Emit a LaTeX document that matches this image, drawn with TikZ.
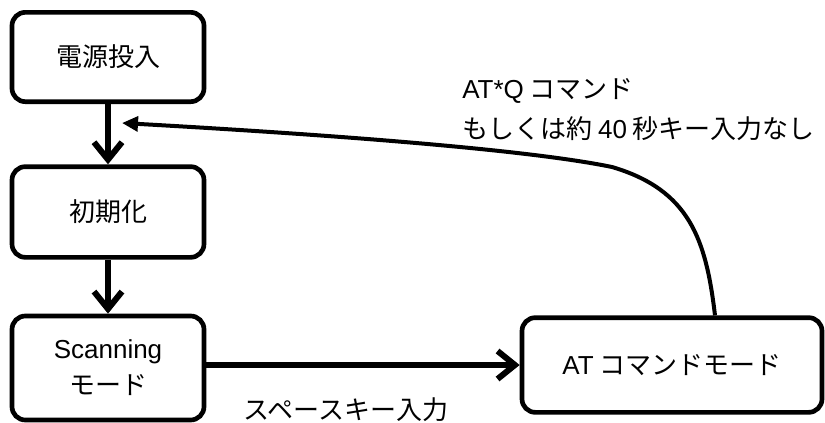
\documentclass[tikz,border=0pt]{standalone}
\usepackage{fontspec}
\setmainfont{Liberation Sans}
\newfontfamily\jp{Noto Sans CJK JP}
\usetikzlibrary{arrows.meta,calc}
\begin{document}
\begin{tikzpicture}[x=0.75pt,y=-0.75pt,
  stepbox/.style={draw,line width=3.5pt,rounded corners=10pt,inner sep=0pt,font=\fontsize{19.5}{27}\selectfont\jp,align=center},
  lbl/.style={font=\fontsize{19.5}{30}\selectfont\jp,inner sep=0pt},
  flow/.style={line width=4.5pt,-{Straight Barb[length=13pt,width=21pt,line width=4.5pt]}},
  ret/.style={line width=3pt,-{Triangle[length=12pt,width=11pt]}}]
\useasboundingbox (0,0) rectangle (825,422);
\node[stepbox,minimum width=144pt,minimum height=67pt] (pw) at (108,57) {電源投入};
\node[stepbox,minimum width=144pt,minimum height=68pt] (init) at (108,212) {初期化};
\node[stepbox,minimum width=144pt,minimum height=78pt] (scan) at (108,368) {{\rmfamily Scanning}\\モード};
\node[stepbox,minimum width=225pt,minimum height=71pt] (at) at (672,365) {{\rmfamily AT} コマンドモード};
\draw[flow] (pw) -- (init);
\draw[flow] (init) -- (scan);
\draw[flow] (scan.east |- at.west) -- (at.west);
\coordinate (retend) at (122,123);
\draw[ret] ($(at.north)+(43,0)$) .. controls (706,240) and (690,190) .. (612,167)
  .. controls (520,148) and (300,133) .. (retend);
\node[lbl,anchor=west,align=left] (q) at (462,110) {{\rmfamily AT*Q} コマンド\\もしくは約 {\rmfamily 40} 秒キー入力なし};
\node[lbl,anchor=west] (sp) at (243,410) {スペースキー入力};
\end{tikzpicture}
\end{document}
